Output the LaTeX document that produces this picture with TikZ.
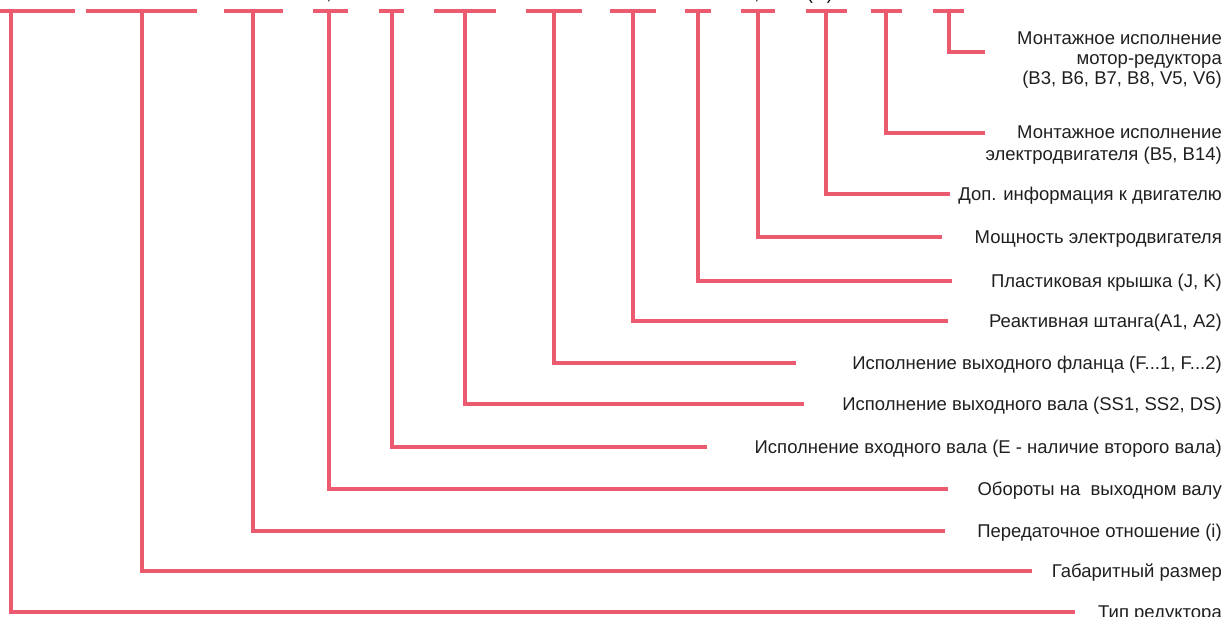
\documentclass[tikz,border=0pt]{standalone}
\usepackage{fontspec}
\setmainfont{Liberation Sans}

\definecolor{linkred}{RGB}{236,90,112}

\tikzset{
  branch/.style={draw=linkred, line width=3.5pt},
  desc/.style={anchor=base east, inner sep=0pt, text=black!88,
    font=\fontsize{18.5}{20.5}\selectfont}
}

\begin{document}
\begin{tikzpicture}[x=1pt,y=-1pt]
\useasboundingbox (0,0) rectangle (1227,617);

% Tails of the code line above
\foreach \n/\x/\t in {ca/329/{,}, cb/757/{,}, pa/810/{(}, pb/830/{)}}
\node[desc, anchor=base, text=black] (\n) at (\x,-0.6) {\t};

% Top row of bars
\foreach \a/\b in {0/75, 86/197, 224/283, 313/348, 379/404, 434/496,
  526/582, 610/656, 685/711, 741/775, 806/847, 871/902, 933/964}
\draw [branch] (\a,11) -- (\b,11);

% One line labels
\foreach \n/\x/\y/\e/\t in {
  tip/11/612/1075/{Тип редуктора},
  size/142/571/1032/{Габаритный размер},
  ratio/253/531/945/{Передаточное отношение (i)},
  speed/329/489/948/{Обороты на~ выходном валу},
  inshaft/392/447/707/{Исполнение входного вала (E - наличие второго вала)},
  outshaft/465/404/804/{Исполнение выходного вала (SS1, SS2, DS)},
  flange/554/363/796/{Исполнение выходного фланца (F...1, F...2)},
  arm/633/321/948/{Реактивная штанга(A1, A2)},
  cover/698/281/952/{Пластиковая крышка (J, K)},
  power/758/237/942/{Мощность электродвигателя},
  extra/826/194/950/{Доп. информация к двигателю}}
{
\coordinate (\n-top) at (\x,11);
\coordinate (\n-end) at (\e,\y);
\node[desc] (\n) at (1222,\y+6.6) {\t};
\draw [branch] (\n-top) |- (\n-end);
}

% Motor mounting
\coordinate (motor-top) at (886,11);
\coordinate (motor-end) at (985,133);
\node[desc] (motor-a) at (1222,131.6+6.6) {Монтажное исполнение};
\node[desc] (motor-b) at (1222,153.6+6.6) {электродвигателя (B5, B14)};
\draw [branch] (motor-top) |- (motor-end);

% Gear motor mounting
\coordinate (gear-top) at (949,11);
\coordinate (gear-end) at (985,52);
\node[desc] (gear-a) at (1222,38.3+6.6) {Монтажное исполнение};
\node[desc] (gear-b) at (1222,58.3+6.6) {мотор-редуктора};
\node[desc] (gear-c) at (1222,78.3+6.6) {(B3, B6, B7, B8, V5, V6)};
\draw [branch] (gear-top) |- (gear-end);

\end{tikzpicture}
\end{document}
